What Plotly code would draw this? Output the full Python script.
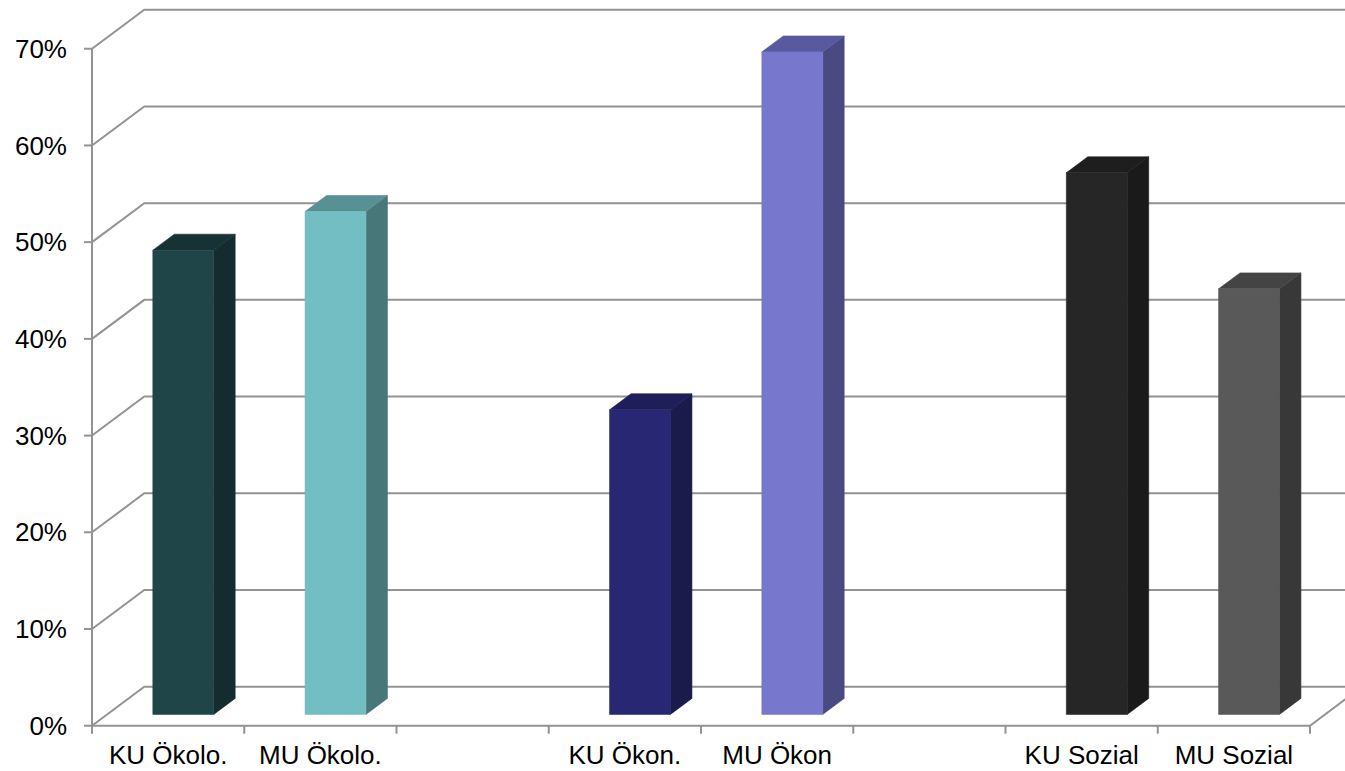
import plotly.graph_objects as go

# ---- data ----
categories = ["KU Ökolo.", "MU Ökolo.", "", "KU Ökon.", "MU Ökon", "", "KU Sozial", "MU Sozial"]
values = [48, 52, None, 31.5, 68.5, None, 56, 44]
front_colors = ["#1F4548", "#72BEC3", None, "#272773", "#7777CE", None, "#262626", "#595959"]
side_colors = ["#142C2E", "#48777A", None, "#1A1A4B", "#4A4A82", None, "#1A1A1A", "#383838"]
top_colors = ["#173235", "#579194", None, "#1E1E5A", "#5959A0", None, "#1E1E1E", "#444444"]
y_ticks = [0, 10, 20, 30, 40, 50, 60, 70]
y_tick_labels = ["0%", "10%", "20%", "30%", "40%", "50%", "60%", "70%"]

# ---- pseudo-3D geometry (oblique projection, in axis units) ----
W, H = 1345, 771
PX_X = 152.25          # px per category slot
PX_Y = 9.671           # px per percent
DX = 52.3 / PX_X       # depth shift in x units
DY = 39.0 / PX_Y       # depth shift in % units
T0, T1 = 0.29, 0.70    # bar depth start/end (fraction of full depth)
HALF = 0.2             # half bar width
n = len(categories)

L_MARGIN, B_MARGIN = 80, 35
x0_px, y0_px = 92, 725.7
x_range = [-(x0_px - L_MARGIN) / PX_X, (W - x0_px) / PX_X]
y_range = [-((H - B_MARGIN) - y0_px) / PX_Y, y0_px / PX_Y]

GRID = "#939393"
fig = go.Figure()

def line_trace(xs, ys, color=GRID, width=2):
    fig.add_trace(go.Scatter(x=xs, y=ys, mode="lines",
                             line=dict(color=color, width=width),
                             hoverinfo="skip", showlegend=False))

# back-wall gridlines and left-wall oblique lines
gx, gy = [], []
for g in y_ticks:
    gx += [0, DX, n + DX + 1, None]
    gy += [g, g + DY, g + DY, None]
line_trace(gx, gy)
# floor: front edge and right oblique edge
line_trace([0, n, n + DX], [0, 0, DY])
# front vertical axis
line_trace([0, 0], [y_ticks[0], y_ticks[-1]])
# y tick marks
tx, ty = [], []
for g in y_ticks:
    tx += [-8 / PX_X, 0, None]
    ty += [g, g, None]
line_trace(tx, ty)
# x tick marks at slot boundaries
kx, ky = [], []
for i in range(n + 1):
    kx += [i, i, None]
    ky += [0, -8 / PX_Y, None]
line_trace(kx, ky)

def poly(xs, ys, color):
    fig.add_trace(go.Scatter(x=xs + [xs[0]], y=ys + [ys[0]], mode="lines",
                             fill="toself", fillcolor=color,
                             line=dict(color=color, width=0.6),
                             hoverinfo="skip", showlegend=False))

for i, v in enumerate(values):
    if v is None:
        continue
    c = i + 0.5
    xl0, xr0 = c - HALF + T0 * DX, c + HALF + T0 * DX
    xl1, xr1 = c - HALF + T1 * DX, c + HALF + T1 * DX
    yb0, yb1 = T0 * DY, T1 * DY
    # side face
    poly([xr0, xr1, xr1, xr0], [yb0, yb1, v + yb1, v + yb0], side_colors[i])
    # top face
    poly([xl0, xr0, xr1, xl1], [v + yb0, v + yb0, v + yb1, v + yb1], top_colors[i])
    # front face
    poly([xl0, xr0, xr0, xl0], [yb0, yb0, v + yb0, v + yb0], front_colors[i])

FONT = "Liberation Sans, Arial, sans-serif"
fig.update_layout(
    template="none",
    width=W, height=H,
    margin=dict(l=L_MARGIN, r=0, t=0, b=B_MARGIN, pad=0),
    paper_bgcolor="white", plot_bgcolor="white",
    font=dict(family=FONT, size=26, color="black"),
    xaxis=dict(range=x_range, showgrid=False, zeroline=False, showline=False,
               tickmode="array", tickvals=[i + 0.5 for i in range(n)], ticktext=categories,
               ticks="", ticklabelstandoff=1, automargin=False, fixedrange=True,
               tickfont=dict(family=FONT, size=26, color="black")),
    yaxis=dict(range=y_range, showgrid=False, zeroline=False, showline=False,
               tickmode="array", tickvals=y_ticks, ticktext=y_tick_labels,
               ticks="", ticklabelstandoff=12, automargin=False, fixedrange=True,
               tickfont=dict(family=FONT, size=26, color="black")),
    showlegend=False,
)

fig.write_html("out.html")
